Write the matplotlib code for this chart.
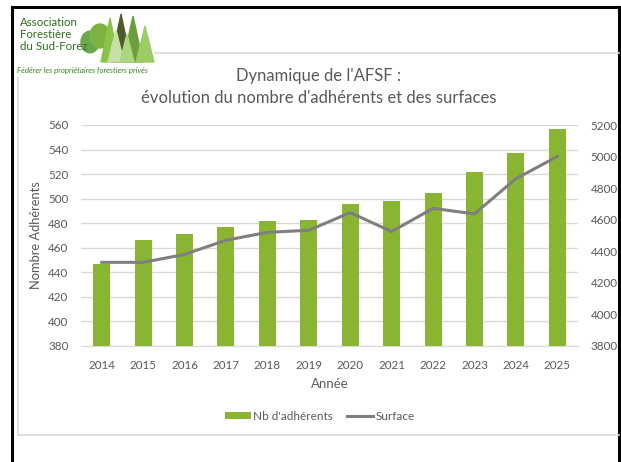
import matplotlib.pyplot as plt
from matplotlib.patches import Polygon, Ellipse
from matplotlib.lines import Line2D

plt.rcParams['font.family'] = ['Lato', 'DejaVu Sans']

annees = [2014, 2015, 2016, 2017, 2018, 2019, 2020, 2021, 2022, 2023, 2024, 2025]
adherents = [447, 466, 471, 477, 482, 483, 496, 498, 505, 522, 537, 557]
surfaces = [4330, 4330, 4380, 4470, 4520, 4533, 4645, 4525, 4672, 4637, 4860, 5000]

VERT = '#8ab533'
GRIS = '#7f7f7f'
TXT = '#595959'
W, H = 621, 462


def px(x, y):
    # pixel coords -> figure fraction
    return x / W, 1 - y / H


fig = plt.figure(figsize=(6.21, 4.62), dpi=100)

# cadre
fig.add_artist(Line2D([12 / W, 12 / W], [0, 1 - 7 / H], color='black', lw=2.2))
fig.add_artist(Line2D([12 / W, 619 / W], [1 - 7 / H, 1 - 7 / H], color='black', lw=2.2))
fig.add_artist(Line2D([619 / W, 619 / W], [0, 1 - 7 / H], color='black', lw=2.2))
fig.add_artist(Line2D([18 / W, 18 / W], [1 - 435 / H, 1 - 78 / H], color='#d9d9d9', lw=1.2))
fig.add_artist(Line2D([18 / W, 619 / W], [1 - 435 / H, 1 - 435 / H], color='#d9d9d9', lw=1.2))
fig.add_artist(Line2D([155 / W, 619 / W], [1 - 53 / H, 1 - 53 / H], color='#d9d9d9', lw=1.2))

# logo : arbres
arbres = [
    ('rond', 90, 42, 9, '#6aa84f'),
    ('rond', 100, 36, 10, '#7cb342'),
    ('tri', 110, 18, 9, '#8bc34a'),
    ('tri', 121, 14, 10, '#4e5b2a'),
    ('tri', 133, 16, 10, '#6b9f3a'),
    ('tri', 145, 26, 9, '#9ccc65'),
    ('tri', 116, 30, 8, '#c5e1a5'),
    ('tri', 127, 34, 7, '#aed581'),
]
for forme, cx, top, half, col in arbres:
    if forme == 'tri':
        pts = [px(cx, top), px(cx - half, 62), px(cx + half, 62)]
        fig.add_artist(Polygon(pts, closed=True, color=col, transform=fig.transFigure))
    else:
        ex, ey = px(cx, top)
        fig.add_artist(Ellipse((ex, ey), 2 * half / W, 2.4 * half / H, color=col,
                               transform=fig.transFigure))
for i, ligne in enumerate(['Association', 'Forestière', 'du Sud-Forez']):
    x, y = px(20, 23 + i * 12)
    fig.text(x, y, ligne, color='#2f6e1e', fontsize=8.3, va='center', ha='left')
x, y = px(17, 71)
fig.text(x, y, 'Fédérer les propriétaires forestiers privés', color='#3d7f25',
         fontsize=5.6, style='italic', va='center', ha='left')

# titre
x, y = px(319, 76)
fig.text(x, y, "Dynamique de l'AFSF :", ha='center', va='center', fontsize=12, color=TXT)
x, y = px(319, 98)
fig.text(x, y, "évolution du nombre d'adhérents et des surfaces", ha='center', va='center',
         fontsize=12, color=TXT)

ax = fig.add_axes([81 / W, 1 - 346 / H, 497 / W, 221 / H])
pos = list(range(len(annees)))
ax.bar(pos, adherents, width=0.41, color=VERT, zorder=2, label="Nb d'adhérents")
ax.set_ylim(380, 560)
ax.set_yticks(range(380, 561, 20))
ax.set_xlim(-0.5, len(annees) - 0.5)
ax.set_xticks(pos)
ax.set_xticklabels([str(a) for a in annees])
ax.grid(axis='y', color='#d9d9d9', lw=1, zorder=0)
for s in ['top', 'right', 'left']:
    ax.spines[s].set_visible(False)
ax.spines['bottom'].set_color('#d9d9d9')
ax.tick_params(length=0, labelsize=8.4, colors=TXT, pad=10)
ax.tick_params(axis='y', pad=9)
ax.set_ylabel('Nombre Adhérents', fontsize=9.3, color=TXT)
ax.yaxis.set_label_coords((42 - 81) / 497, 0.5)
ax.set_xlabel('Année', fontsize=9.5, color=TXT, labelpad=5)

ax2 = ax.twinx()
ax2.plot(pos, surfaces, color=GRIS, lw=2.2, label='Surface')
ax2.set_ylim(3800, 5200)
ax2.set_yticks(range(3800, 5201, 200))
for s in ['top', 'right', 'left', 'bottom']:
    ax2.spines[s].set_visible(False)
ax2.tick_params(length=0, labelsize=8.4, colors=TXT, pad=9)

h1, l1 = ax.get_legend_handles_labels()
h2, l2 = ax2.get_legend_handles_labels()
lx, ly = px(320, 416)
fig.legend(h1 + h2, l1 + l2, loc='center', bbox_to_anchor=(lx, ly), ncol=2, frameon=False,
           fontsize=8.5, labelcolor=TXT, handlelength=2.2, handleheight=0.5,
           handletextpad=0.2, columnspacing=1.2)

fig.savefig('out.png', dpi=100, facecolor='white')
